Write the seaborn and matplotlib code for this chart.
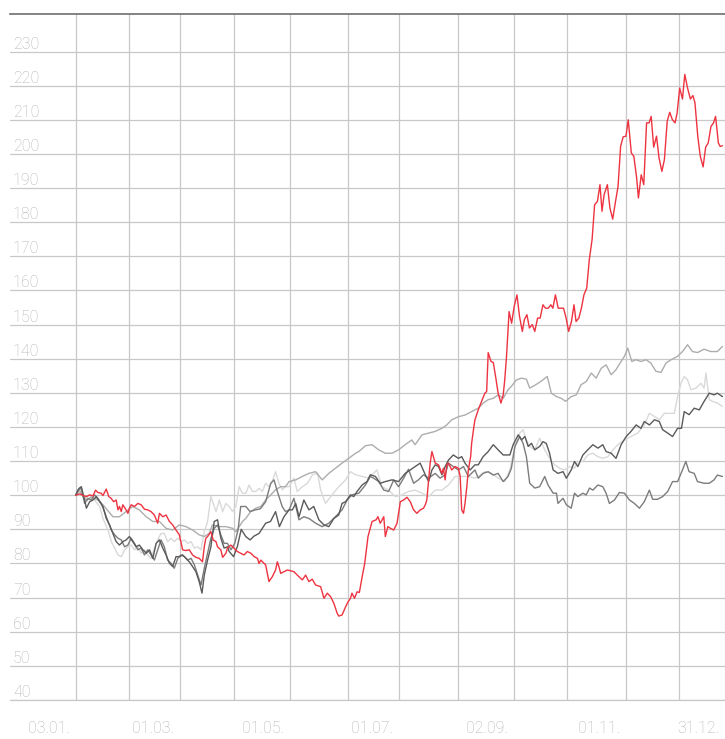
import numpy as np
import pandas as pd
import matplotlib
matplotlib.use("Agg")
import matplotlib.pyplot as plt
import seaborn as sns

# ---------------- data (trading-day index from 03.01., indexed to 100) ----------------
red_x = [0, 1.6, 3, 4.2, 5.5, 6.8, 7.8, 8.7, 10, 10.7, 12, 13, 13.9, 14.9, 15.9, 16.6, 17.2, 17.9, 18.5, 19.8,
         20.5, 21.1, 21.8, 23.1, 24.4, 25.7, 27, 28.3, 29.6, 30.9, 32.2, 32.9, 34.2, 35.5, 36.8, 38.1, 39.4, 40.7,
         42, 43.3, 44.6, 45.9, 47.2, 48.5, 49.8, 50.5, 51.1, 51.8, 53.1, 54, 55.1, 55.7, 57, 57.7, 59, 59.6, 60.9,
         62.2, 63.5, 64.8, 66.1, 67.4, 68.8, 70.1, 71.4, 72, 72.7, 74, 74.6, 75.9, 77.2, 78.5, 79.2, 79.8, 80.5,
         81.8, 83.1, 85.7, 87.7, 89.0, 90.3, 91.6, 92.9, 94.2, 96.2, 97.5, 98.8, 100.1, 101.4, 102.7, 103.3, 104.6,
         106.0, 107.0, 107.9, 108.5, 109.5, 110.5, 111.4, 112.5, 113.5, 114.8, 116.4, 118.0, 118.7, 119.6, 121.0,
         121.6, 122.6, 123.6, 124.9, 126.2, 127.5, 128.8, 130.1, 131.4, 132.7, 134.0, 135.3, 136.6, 137.3, 137.9,
         138.6, 139.2, 139.9, 141.2, 142.5, 143.8, 144.4, 145.1, 145.7, 146.4, 147.7, 149.0, 150.3, 151.0, 151.6,
         152.3, 152.9, 153.6, 154.2, 155.1, 155.5, 156.2, 156.8, 158.1, 159.4, 160.7, 161.4, 162.0, 163.1, 164.0,
         164.9, 165.9, 167.0, 167.9, 168.5, 169.2, 169.8, 170.2, 171.2, 172.2, 173.3, 174.3, 175.4, 176.2, 177.2,
         178.2, 179.3, 180.3, 181.4, 182.4, 183.5, 184.5, 185.6, 186.6, 187.4, 188.4, 189.5, 190.5, 191.6, 192.6,
         193.6, 194.7, 195.7, 196.5, 197.6, 198.6, 199.6, 200.7, 201.7, 202.8, 203.8, 204.9, 205.9, 206.7, 207.5,
         208.8, 209.8, 210.9, 211.9, 213.0, 214.0, 215.0, 216.1, 217.0, 218.2, 219.2, 220.3, 221.0, 222.1, 223.1,
         224.2, 225.2, 226.0, 227.0, 228.1, 229.1, 230.2, 231.2, 232.3, 233.3, 234.3, 235.4, 236.2, 237.2, 238.3,
         239.2, 240.3, 241.4, 242.4, 243.2, 244.3, 245.3, 246.4, 247.4, 248.4, 249.5, 250.5, 251.3, 252.4, 253.1,
         254.0]
red_y = [100, 100.4, 99.9, 99.6, 100.1, 99.8, 101.5, 100.8, 100.6, 99.9, 101.8, 99.6, 99.1, 98.1, 98.6, 95.7, 96.7,
         95.2, 97.2, 95.7, 94.7, 96.2, 97.2, 96.7, 97.6, 97.2, 95.9, 95.7, 95.2, 94.2, 91.8, 94.7, 93.7, 94.2, 92.3,
         91.3, 89.8, 88.4, 84.0, 83.8, 84.0, 82.5, 81.8, 81.5, 80.5, 84.9, 87.4, 87.9, 89.3, 86.9, 86.4, 84.9, 84.0,
         81.8, 83.0, 84.5, 85.4, 84.5, 83.5, 83.0, 82.5, 83.5, 83.0, 82.0, 81.5, 80.0, 81.0, 80.0, 79.6, 74.7, 76.1,
         78.1, 80.5, 79.1, 77.1, 77.6, 78.1, 77.6, 76.1, 75.2, 76.6, 74.7, 75.4, 73.7, 73.2, 69.8, 71.3, 70.3,
         68.3, 65.4, 64.6, 64.9, 67.3, 68.8, 69.8, 71.3, 69.8, 71.7, 71.5, 76.1, 80.0, 87.9, 92.3, 92.8, 93.7, 91.8,
         93.7, 87.9, 90.8, 90.3, 89.8, 91.8, 98.1, 98.6, 99.4, 98.1, 95.7, 94.7, 95.7, 96.2, 97.2, 98.6, 104.5,
         109.4, 112.8, 109.4, 108.9, 106.4, 107.9, 104.5, 108.9, 109.4, 107.4, 108.4, 107.9, 105.5, 95.7, 94.7,
         97.6, 102.5, 107.4, 111.3, 115.2, 119.1, 122.1, 125.0, 127.5, 129.9, 130.4, 141.8, 139.2, 138.9, 134.8,
         129.9, 127.0, 129.4, 133.8, 140.7, 148.5, 153.8, 150.4, 155.3, 158.7, 152.4, 148.0, 151.4, 152.9, 149.0,
         150.0, 148.0, 151.9, 151.9, 155.8, 154.8, 154.8, 155.8, 154.8, 158.7, 154.8, 154.8, 154.8, 151.9, 148.0,
         150.9, 155.8, 150.9, 151.9, 154.8, 158.7, 160.7, 169.0, 174.9, 185.1, 186.1, 191.0, 183.2, 188.0, 191.0,
         184.2, 180.9, 185.6, 190.5, 202.2, 205.0, 205.2, 210.0, 200.3, 199.3, 193.0, 187.1, 193.9, 191.0, 209.1,
         209.1, 211.0, 202.0, 205.2, 198.8, 194.9, 198.3, 209.6, 212.2, 210.1, 209.1, 212.0, 219.3, 216.1, 223.3,
         219.3, 216.1, 217.1, 215.0, 205.2, 199.3, 196.2, 202.0, 203.2, 208.1, 209.1, 211.0, 203.2, 202.2, 202.4]

silver_x = [0, 1.5, 3, 4.5, 6, 7.5, 9, 10.7, 14.6, 17.2, 19.8, 22.4, 25.0, 27.7, 30.3, 32.9, 35.5, 38.1, 40.7,
            43.3, 45.9, 48.5, 50.5, 52.4, 53.7, 56.4, 59, 61.6, 62.9, 64.2, 65.5, 66.8, 68.7, 70.7, 72.7, 74.6,
            76.6, 78.5, 80.5, 82.4, 83.8, 86.4, 89, 91.6, 94.2, 96.8, 99.4, 102, 104.6, 107.2, 109.9, 111.2, 113.8,
            116.4, 119, 121.6, 124.2, 126.8, 129.4, 132, 133.3, 136, 138.6, 141.2, 143.8, 145.7, 147.7, 150.3,
            152.9, 155.5, 158.1, 160, 162, 164, 165.9, 167.9, 169.8, 171.1, 173.1, 175.1, 177, 178.3, 179.6, 181.6,
            183.5, 185.2, 186.8, 188.8, 190.7, 192.4, 194.6, 196.6, 198.5, 200.5, 202.5, 204.4, 206.4, 208.3, 210.3,
            212.2, 214.2, 215.5, 216.8, 218.4, 220.1, 222, 224, 225.9, 227.9, 229.9, 231.8, 233.8, 236.4, 238.3,
            240.3, 242.2, 244.2, 246.8, 249.4, 252, 254]
silver_y = [100, 101.5, 99.5, 98.5, 99.5, 99, 98.5, 97.2, 93.7, 93.7, 95.2, 96.7, 95.7, 93.7, 92.3, 92.3, 90.3,
            89.8, 91.3, 90.8, 89.8, 88.4, 87.9, 88.8, 91.3, 90.8, 90.8, 90.3, 89.3, 90.8, 92.3, 93.2, 95.2, 96.2,
            96.7, 98.6, 100.1, 101.6, 102.5, 102.5, 104.0, 104.5, 105.5, 106.4, 106.9, 104.5, 106.4, 107.9, 109.4,
            110.8, 112.3, 112.8, 114.5, 114.8, 113.3, 112.3, 112.3, 113.3, 114.8, 116.2, 114.8, 117.7, 118.2, 118.7,
            119.6, 120.6, 122.1, 123.0, 123.5, 124.5, 125.5, 127, 128, 128.4, 129.4, 128.4, 130.9, 131.9, 133.8,
            134.3, 134, 131.4, 131.9, 132.8, 133.8, 134.8, 129.9, 128.9, 128.4, 127.5, 128.9, 129.4, 132.4, 133.3,
            135.8, 134.3, 137.2, 138.2, 135.3, 136.8, 139.2, 140.7, 143.1, 139.2, 139.7, 139.2, 139.7, 138.7, 136.3,
            136, 138.7, 139.7, 140.7, 142.1, 144.1, 142.1, 141.8, 142.8, 142.1, 142.1, 143.6]

light_x = [0, 1.6, 3.5, 5.5, 7.4, 9.4, 10.7, 12.7, 14, 15.3, 16.6, 17.9, 19.2, 20.5, 21.8, 23.1, 24.4, 25.7, 27,
           28.3, 29.6, 30.9, 32.2, 33.5, 34.8, 36.1, 37.4, 38.7, 40.1, 41.4, 42.7, 44, 45.3, 46.6, 47.9, 49.2, 50.5,
           51.8, 53.1, 55.1, 56.4, 57.7, 59, 60.3, 61.6, 62.9, 64.2, 65.5, 66.8, 68.1, 69.4, 70.7, 72, 73.3, 74.6,
           75.9, 77.2, 78.5, 79.8, 81.1, 82.4, 83.8, 85.7, 87, 89, 91, 93, 95, 96.2, 98.1, 100.7, 103.3, 106, 107.9,
           109.9, 112.5, 115.1, 117, 118.3, 120.3, 122.9, 125.5, 128.1, 130.7, 133.3, 136, 138.6, 141.2, 143.8,
           146.4, 149, 151.6, 154.2, 156.8, 158.1, 160.7, 163.3, 165.9, 168.5, 170.5, 172.5, 174.4, 175.7, 177,
           178.3, 180.3, 182.2, 184.2, 186.1, 188.1, 190.1, 192, 194, 195.9, 197.2, 199.2, 201.1, 203.1, 205.1, 207,
           209, 211, 212.9, 215.5, 218.1, 220.7, 223.3, 225.3, 227.3, 229.2, 231.2, 233.1, 235.1, 236.4, 237.7, 239,
           240.3, 241.6, 243.6, 245.5, 246.8, 247.5, 248.8, 250.1, 252, 254]
light_y = [100, 101, 99.1, 100.1, 98.6, 96.7, 93.2, 89.8, 86.4, 84.5, 82.5, 82, 84, 84.9, 85.4, 84, 84.9, 83, 84,
           82.5, 81.5, 84.5, 86.9, 88.8, 88.8, 86.4, 87.4, 86.4, 87.4, 86.4, 86.9, 85.9, 86.4, 84.5, 84.9, 84, 89.3,
           92.3, 99.6, 95.2, 98.6, 95.2, 97.6, 96.7, 95.2, 96.7, 102.5, 100.6, 100.6, 103, 101.1, 101.1, 102, 101.1,
           103.5, 102.5, 104, 106.9, 103.5, 101.6, 102.5, 102.5, 105, 101.1, 102.5, 103.5, 106, 106.4, 101.5, 97.6,
           100.1, 102.5, 104.5, 106.9, 106, 105.5, 105, 106.4, 107.4, 102.5, 101.5, 99.6, 100.1, 101.1, 101.5,
           100.6, 99.6, 101.5, 101.5, 103, 105.5, 105.5, 105.5, 105, 105.5, 106.9, 106.4, 105, 104, 107.4, 114.3,
           118.2, 119.2, 116.2, 114.3, 113.3, 116.7, 113.3, 110.8, 108.9, 107.9, 107.4, 108.4, 107.9, 109.9, 109.9,
           111.8, 112.3, 111.3, 110.8, 111.3, 113.3, 114.8, 116.2, 117.2, 118.2, 120.6, 124, 123.1, 122.1, 124, 124,
           124, 128.9, 132.8, 134.8, 133.8, 130.9, 131.4, 132.8, 131.4, 135.8, 128, 127.5, 127, 126]

dark_x = [0, 1.3, 2.2, 3.5, 4.2, 5.5, 6.8, 8.1, 9.4, 10.7, 12, 13.3, 14.6, 15.9, 17.2, 18.5, 19.8, 21.1, 22.4,
          23.7, 25, 26.4, 27.7, 29, 30.3, 31.6, 32.9, 34.2, 35.5, 36.8, 38.1, 39.4, 40.7, 42, 43.3, 44.6, 45.9,
          47.2, 48.5, 49.6, 50.5, 51.8, 53.1, 54.4, 55.7, 57, 58.3, 59.6, 60.3, 62, 63.5, 65, 66.8, 68.5, 70, 72,
          74.6, 76.5, 78.5, 80, 81.8, 83.8, 85.1, 86.4, 87.7, 89.6, 91.6, 93.5, 95.5, 97.5, 99.4, 101.4, 103.3,
          104.6, 106, 107.9, 109.2, 110.5, 112.5, 114.4, 115.7, 117.7, 119.6, 121.6, 124.2, 126.8, 129.4, 131.4,
          133.3, 135.3, 137.3, 138.6, 139.9, 141.2, 142.5, 143.8, 145.1, 146.4, 148.3, 150.3, 151.6, 152.9, 154.9,
          156.8, 158.1, 160, 162, 164, 165.9, 167.9, 170.5, 171.8, 173.8, 175.1, 176.4, 177.7, 179, 180.3, 182.2,
          183.5, 184.8, 186.1, 187.5, 189.4, 191.4, 192.7, 194.6, 195.9, 197.2, 199.2, 201.1, 203.1, 205.1, 207,
          208.3, 210.3, 212.2, 214.2, 216.2, 218.1, 220.1, 222, 223.3, 225.3, 227.3, 229.2, 230.5, 232.5, 234.4,
          236.4, 237.9, 239, 240.9, 242.9, 244.9, 246.8, 248.8, 250.7, 252, 254]
dark_y = [100, 102, 102.5, 98.6, 96.2, 98.1, 98.6, 99.6, 98.1, 96.7, 93.2, 91.3, 88.8, 86.4, 85.4, 86.4, 86.9,
          87.9, 86.4, 84.9, 85.4, 84, 83, 84, 81.5, 85.9, 86.9, 84.5, 82.5, 80.1, 79.1, 82, 82, 82.5, 81.5, 80.5,
          79.1, 77.6, 74.7, 71.3, 76.6, 81, 84.9, 92.3, 92.8, 87.4, 84.5, 84.9, 83.5, 82, 85, 90, 87.9, 86.9, 88,
          88.8, 91.8, 92.3, 95.2, 90.8, 93.7, 95.7, 95.7, 97.6, 93.7, 98.6, 95.7, 96.7, 92.8, 91.3, 90.8, 93.2,
          94.2, 97.6, 98.1, 100.1, 99.6, 101.1, 103, 104, 106, 105.5, 103.5, 104, 104.5, 104, 106.4, 107.4, 108.4,
          109.4, 106, 104, 107.4, 108.9, 108.4, 106, 108.4, 110.3, 111.8, 110.8, 111.3, 109.4, 107.4, 108.9,
          108.9, 111.3, 112.8, 114.8, 113.3, 111.8, 111.8, 114.8, 117.7, 116.2, 117.2, 114.3, 115.2, 113.3, 114.3,
          115.7, 115.2, 112.3, 107.4, 106.4, 106.9, 105, 107.4, 109.9, 108.4, 111.8, 113.3, 114.8, 113.8, 114.8,
          112.8, 112.3, 110.8, 114.8, 117.2, 118.7, 120.6, 119.6, 121.6, 120.6, 122.1, 121.6, 119.2, 118.2, 117.2,
          119.6, 119.6, 124.5, 123.6, 125.5, 125, 127.5, 129.9, 129.4, 129.9, 128.9]

mid_x = [0, 0.9, 2.2, 3.5, 4.8, 6.1, 7.4, 8.7, 10, 11.3, 12.7, 14, 15.3, 16.6, 17.9, 19.2, 20.5, 21.8, 23.1, 24.4,
         25.7, 27, 28.3, 29.6, 30.9, 32.2, 33.5, 34.8, 36.1, 37.4, 38.7, 40.1, 41.4, 42.7, 44, 45.3, 46.6, 47.9,
         49.2, 50.5, 51.8, 53.1, 54.4, 55.7, 57, 58.3, 59.6, 61, 62.5, 63.8, 64.8, 66.8, 68.5, 70.5, 72.5, 74.6,
         76.6, 77.9, 79.2, 81.1, 82.4, 83.8, 85.7, 87.7, 89.6, 91.6, 94.2, 96.8, 99.4, 102, 104.6, 106.6, 108.5,
         111.2, 113.8, 115.7, 117, 119, 121, 122.9, 124.9, 126.8, 128.8, 130.7, 132.7, 134.6, 136.6, 138.6, 141.2,
         143.1, 145.1, 146.4, 148.3, 150.3, 152.3, 154.2, 156.8, 158.1, 160, 162, 164, 165.9, 167.9, 169.8, 171.1,
         172.5, 174.4, 175.7, 177, 178.3, 180.3, 182.2, 184.2, 185.5, 187.5, 188.8, 189.4, 191.4, 192.7, 194.6,
         195.9, 197.2, 199.2, 200.5, 201.8, 203.1, 205.1, 207, 208.3, 209.6, 211.6, 213.5, 215.5, 217.5, 219.4,
         221.4, 223.3, 225.3, 226.6, 228.5, 230.5, 232.5, 234.4, 236.4, 238.3, 239.6, 240.9, 242.9, 244.2, 246.8,
         248.8, 250.7, 252, 254]
mid_y = [100, 101.6, 102, 97.6, 99.1, 98.6, 100.1, 99.1, 97.6, 95.2, 92.3, 89.8, 88.4, 87.4, 86.9, 84.9, 85.4,
         87.4, 85.9, 84, 84.5, 82.5, 84, 82.5, 81, 84, 86.9, 84.9, 81, 80.1, 78.6, 81.5, 82.5, 82, 81, 81.5, 79.6,
         76.6, 73.7, 78.6, 83, 87.4, 90.3, 91.3, 88.4, 85.9, 85.9, 84, 86, 90, 96.7, 96.7, 95.2, 95.7, 96, 98.1,
         103.5, 104.5, 101.1, 96.7, 95.2, 95.7, 99.1, 92.8, 93.7, 93.2, 91.8, 90.8, 91.8, 93.7, 95.7, 98.6, 100.1,
         100.6, 103, 105.5, 105, 104, 101.5, 101.1, 104.5, 102.5, 105, 107.6, 103.5, 104.5, 106, 105, 106.4, 105,
         106, 109.4, 108.4, 107.4, 108.4, 105.5, 107.4, 105, 106.4, 106.9, 105.9, 106.4, 104, 105.5, 107.9, 114.3,
         117.2, 115.2, 111.3, 103.5, 102.1, 102.5, 105.5, 103, 100.6, 100.6, 97.6, 99.1, 97.2, 96.2, 100.6, 99.6,
         100.6, 100.1, 102.1, 101.5, 103, 102.5, 100.6, 97.6, 98.6, 100.8, 100.6, 98.6, 97.6, 96.2, 98.1, 101.5,
         98.8, 98.8, 99.6, 101.1, 104, 104, 107.4, 109.9, 106.9, 106.4, 104, 103.5, 103.5, 104.5, 105.9, 105.5]

series_names = ["light", "silver", "mid", "dark", "red"]
series_colors = ["#d9d9d9", "#adadad", "#7c7c7c", "#5a5a5a", "#ee3340"]

y_ticks = list(range(40, 240, 10))
major_dates = ["2019-01-03", "2019-03-01", "2019-05-01", "2019-07-01", "2019-09-02", "2019-11-01", "2019-12-31"]
major_labels = ["03.01.", "01.03.", "01.05.", "01.07.", "02.09.", "01.11.", "31.12."]
minor_dates = ["2019-02-01", "2019-04-01", "2019-06-03", "2019-08-01", "2019-10-01", "2019-12-02"]
holidays = ["2019-12-24", "2019-12-25", "2019-12-26"]

# ---------------- build frame ----------------
xs = {"red": red_x, "silver": silver_x, "light": light_x, "dark": dark_x, "mid": mid_x}
ys = {"red": red_y, "silver": silver_y, "light": light_y, "dark": dark_y, "mid": mid_y}
frames = []
for name in series_names:
    frames.append(pd.DataFrame({"series": name, "day": xs[name], "value": ys[name]}))
df = pd.concat(frames, ignore_index=True)

major_pos = [int(np.busday_count("2019-01-03", d, holidays=holidays)) for d in major_dates]
minor_pos = [int(np.busday_count("2019-01-03", d, holidays=holidays)) for d in minor_dates]

# ---------------- plot ----------------
sns.set_theme(style="white")
plt.rcParams["font.family"] = ["Roboto", "DejaVu Sans"]

W, H, DPI = 725, 739, 100
fig = plt.figure(figsize=(W / DPI, H / DPI), dpi=DPI)
ax = fig.add_axes([10 / W, 39 / H, 715 / W, 686 / H])

grid_c = "#c8c8c8"
text_c = "#b3b3b3"

sns.lineplot(data=df, x="day", y="value", hue="series", hue_order=series_names,
             palette=dict(zip(series_names, series_colors)), estimator=None, sort=False,
             linewidth=1.0, legend=False, ax=ax)

ax.set_xlim(-25.8, 254.0)
ax.set_ylim(40, 241)

ax.set_yticks(y_ticks)
ax.set_yticklabels([])
ax.set_xticks(major_pos)
ax.set_xticks(minor_pos, minor=True)
ax.set_xticklabels([])
ax.tick_params(axis="y", length=0)
ax.tick_params(axis="x", which="major", direction="out", length=29, width=0.8, color=grid_c)
ax.tick_params(axis="x", which="minor", length=0)
ax.grid(True, axis="y", color=grid_c, linewidth=0.9)
ax.grid(True, axis="x", which="both", color=grid_c, linewidth=0.9)
ax.set_axisbelow(True)
ax.set_xlabel("")
ax.set_ylabel("")

for s in ["left", "right"]:
    ax.spines[s].set_visible(False)
ax.spines["bottom"].set_color(grid_c)
ax.spines["bottom"].set_linewidth(0.9)
ax.spines["top"].set_color("#6e6e6e")
ax.spines["top"].set_linewidth(1.2)

for v in y_ticks:
    ax.annotate(str(v), xy=(0, v), xycoords=("axes fraction", "data"), xytext=(3, 3),
                textcoords="offset pixels", ha="left", va="baseline", fontsize=11.5,
                color=text_c, fontweight="light", annotation_clip=False)

for p, lbl in zip(major_pos, major_labels):
    ax.annotate(lbl, xy=(p, 0), xycoords=("data", "axes fraction"), xytext=(-6, -33),
                textcoords="offset pixels", ha="right", va="baseline", fontsize=11.5,
                color=text_c, fontweight="light", annotation_clip=False)

fig.savefig("out.png", dpi=DPI)
